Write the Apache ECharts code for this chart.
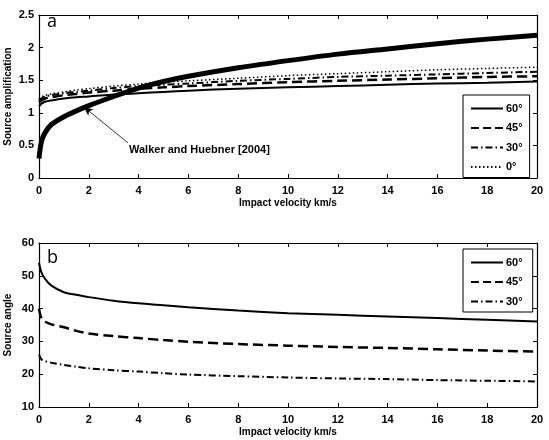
<!DOCTYPE html>
<html>
<head>
<meta charset="utf-8">
<script src="https://cdn.jsdelivr.net/npm/echarts@6/dist/echarts.min.js"></script>
<style>
  html, body { margin: 0; padding: 0; background: #fff; }
  #chart { width: 549px; height: 440px; }
</style>
</head>
<body>
<div id="chart"></div>
<script>
// impact velocity (km/s) sample points, shared by every curve
const velocity = [0, 0.1, 0.25, 0.5, 1, 1.5, 2, 3, 4, 5, 6, 8, 10, 12, 14, 16, 18, 20]

// panel a: source amplification
const walkerHuebner = [0.3, 0.56, 0.7, 0.82, 0.94, 1.03, 1.11, 1.25, 1.38, 1.48, 1.56, 1.69, 1.8, 1.9, 1.98, 2.06, 2.13, 2.19]
const amp60 = [1.1, 1.14, 1.17, 1.19, 1.22, 1.24, 1.25, 1.28, 1.3, 1.32, 1.34, 1.37, 1.39, 1.41, 1.43, 1.45, 1.46, 1.48]
const amp45 = [1.16, 1.19, 1.22, 1.24, 1.27, 1.29, 1.31, 1.34, 1.37, 1.39, 1.41, 1.44, 1.47, 1.49, 1.51, 1.53, 1.55, 1.56]
const amp30 = [1.19, 1.22, 1.25, 1.27, 1.3, 1.32, 1.34, 1.38, 1.41, 1.43, 1.45, 1.49, 1.52, 1.55, 1.57, 1.59, 1.61, 1.63]
const amp0 = [1.21, 1.24, 1.27, 1.29, 1.32, 1.35, 1.37, 1.41, 1.44, 1.47, 1.49, 1.53, 1.57, 1.6, 1.63, 1.66, 1.68, 1.7]

// panel b: source angle (degrees)
const angle60 = [54, 51, 49, 47, 45, 44.2, 43.5, 42.4, 41.6, 41, 40.4, 39.4, 38.6, 38.1, 37.6, 37.1, 36.6, 36.1]
const angle45 = [40, 37, 36, 35.2, 34.3, 33.2, 32.4, 31.6, 31, 30.4, 29.9, 29.2, 28.7, 28.3, 28, 27.6, 27.2, 26.9]
const angle30 = [26, 24.5, 24, 23.5, 22.8, 22.3, 21.8, 21.2, 20.8, 20.3, 19.9, 19.4, 19.0, 18.7, 18.5, 18.2, 18.0, 17.8]

const pairs = vals => velocity.map((v, i) => [v, vals[i]])

const FONT = 'Liberation Sans'
const dashDot = [7, 3, 1.5, 3]
const dotted = [1.5, 2.5]

function xAxes(gridIndex) {
  const common = {
    type: 'value', gridIndex, min: 0, max: 20, interval: 2,
    splitLine: { show: false },
    axisLine: { onZero: false, lineStyle: { color: '#000', width: 1.2 } },
    axisTick: { inside: true, length: 4, lineStyle: { color: '#000', width: 1 } }
  }
  return [
    {
      ...common,
      position: 'bottom',
      name: 'Impact velocity km/s',
      nameLocation: 'middle',
      nameGap: 20,
      nameMoveOverlap: false,
      nameTextStyle: { fontFamily: FONT, fontWeight: 'bold', fontSize: 10, color: '#000' },
      axisLabel: { fontFamily: FONT, fontWeight: 'bold', fontSize: 11, color: '#000', margin: 7 }
    },
    { ...common, position: 'top', axisLabel: { show: false } }
  ]
}

function yAxes(gridIndex, min, max, interval, name) {
  const common = {
    type: 'value', gridIndex, min, max, interval,
    splitLine: { show: false },
    axisLine: { show: true, onZero: false, lineStyle: { color: '#000', width: 1.2 } },
    axisTick: { show: true, inside: true, length: 4, lineStyle: { color: '#000', width: 1 } }
  }
  return [
    {
      ...common,
      position: 'left',
      name,
      nameLocation: 'middle',
      nameGap: 26,
      nameMoveOverlap: false,
      nameTextStyle: { fontFamily: FONT, fontWeight: 'bold', fontSize: 10, color: '#000' },
      axisLabel: { fontFamily: FONT, fontWeight: 'bold', fontSize: 11, color: '#000', margin: 5 }
    },
    { ...common, position: 'right', axisLabel: { show: false } }
  ]
}

function line(name, data, xi, yi, width, type) {
  return {
    name, type: 'line', xAxisIndex: xi, yAxisIndex: yi,
    data: pairs(data), smooth: 0.3, symbol: 'none',
    lineStyle: { color: '#000', width, type },
    itemStyle: { color: '#000' },
    silent: true
  }
}

const legendBase = {
  orient: 'vertical',
  left: 463,
  backgroundColor: '#fff',
  borderColor: '#000',
  borderWidth: 1,
  borderRadius: 0,
  itemWidth: 32,
  itemHeight: 10,
  itemGap: 8.5,
  padding: [8, 7, 5, 7],
  itemStyle: { opacity: 0 },
  textStyle: { fontFamily: FONT, fontWeight: 'bold', fontSize: 11, color: '#000', padding: [0, 0, 0, -2] }
}

const chart = echarts.init(document.getElementById('chart'))

const walker = line('Walker and Huebner [2004]', walkerHuebner, 0, 0, 5, 'solid')
walker.markLine = {
  silent: true,
  symbol: ['none', 'arrow'],
  symbolSize: [6, 9],
  lineStyle: { color: '#000', width: 0.8, type: 'solid' },
  label: { show: false },
  data: [[{ coord: [3.57, 0.54] }, { coord: [1.8, 1.09] }]]
}

const gridBase = { containLabel: false, outerBoundsMode: 'none' }

chart.setOption({
  animation: false,
  backgroundColor: '#fff',
  grid: [
    { ...gridBase, left: 39, top: 15, width: 498, height: 163 },
    { ...gridBase, left: 39, top: 243, width: 498, height: 164 }
  ],
  xAxis: [...xAxes(0), ...xAxes(1)],
  yAxis: [
    ...yAxes(0, 0, 2.5, 0.5, 'Source amplification'),
    ...yAxes(1, 10, 60, 10, 'Source angle')
  ],
  legend: [
    { ...legendBase, top: 95, data: ['60°', '45°', '30°', '0°'] },
    { ...legendBase, top: 249, data: ['60° ', '45° ', '30° '] }
  ],
  series: [
    line('60°', amp60, 0, 0, 2, 'solid'),
    line('45°', amp45, 0, 0, 2.5, 'dashed'),
    line('30°', amp30, 0, 0, 2, dashDot),
    line('0°', amp0, 0, 0, 1.5, dotted),
    walker,
    line('60° ', angle60, 2, 2, 2, 'solid'),
    line('45° ', angle45, 2, 2, 2.5, 'dashed'),
    line('30° ', angle30, 2, 2, 2, dashDot)
  ],
  graphic: [
    { type: 'text', left: 47, top: 13, style: { text: 'a', fontFamily: 'Open Sans', fontSize: 18, fill: '#000' } },
    { type: 'text', left: 47, top: 249, style: { text: 'b', fontFamily: 'Open Sans', fontSize: 18, fill: '#000' } },
    { type: 'text', left: 129, top: 144, style: { text: 'Walker and Huebner [2004]', fontFamily: FONT, fontWeight: 'bold', fontSize: 11, fill: '#000' } }
  ]
})
</script>
</body>
</html>
